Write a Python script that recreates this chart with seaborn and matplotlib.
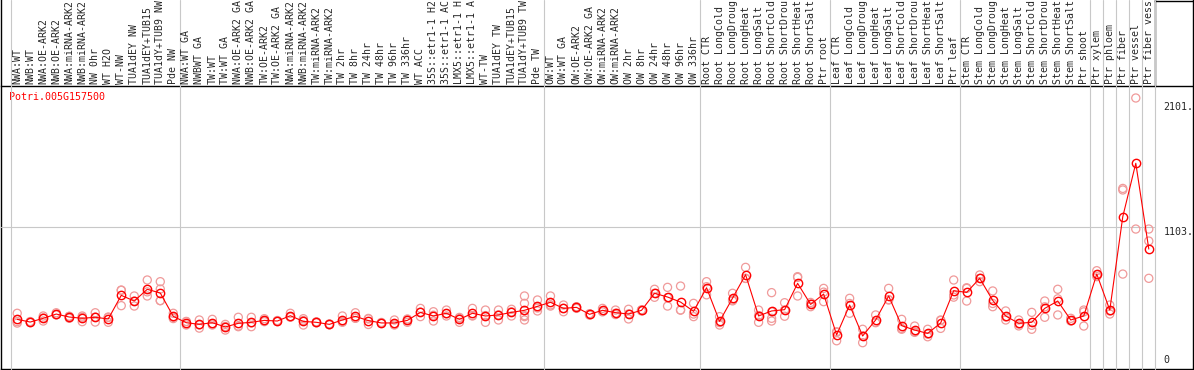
import seaborn as sns
import matplotlib.pyplot as plt
import matplotlib.transforms as mtrans
import pandas as pd

sns.set_style("white")
plt.rcParams['font.family'] = ['DejaVu Sans Mono']

gen = "Potri.005G157500"

muestras = ["NWA:WT", "NWB:WT", "NWA:OE-ARK2", "NWB:OE-ARK2", "NWA:miRNA-ARK2", "NWB:miRNA-ARK2",
            "NW 0hr", "WT H2O", "WT-NW", "TUA1dEY NW", "TUA1dEY+TUB15", "TUA1dY+TUB9 NW", "Pde NW",
            "NWA:WT GA", "NWBWT GA", "TW:WT", "TW:WT GA", "NWA:OE-ARK2 GA", "NWB:OE-ARK2 GA",
            "TW:OE-ARK2", "TW:OE-ARK2 GA", "NWA:miRNA-ARK2", "NWB:miRNA-ARK2", "TW:miRNA-ARK2",
            "TW:miRNA-ARK2", "TW 2hr", "TW 8hr", "TW 24hr", "TW 48hr", "TW 96hr", "TW 336hr", "WT ACC",
            "35S::etr1-1 H2", "35S::etr1-1 AC", "LMX5::etr1-1 H", "LMX5::etr1-1 A", "WT-TW",
            "TUA1dEY TW", "TUA1dEY+TUB15", "TUA1dY+TUB9 TW", "Pde TW",
            "OW:WT", "OW:WT GA", "OW:OE-ARK2", "OW:OE-ARK2 GA", "OW:miRNA-ARK2", "OW:miRNA-ARK2",
            "OW 2hr", "OW 8hr", "OW 24hr", "OW 48hr", "OW 96hr", "OW 336hr",
            "Root CTR", "Root LongCold", "Root LongDroug", "Root LongHeat", "Root LongSalt",
            "Root ShortCold", "Root ShortDrou", "Root ShortHeat", "Root ShortSalt", "Ptr root",
            "Leaf CTR", "Leaf LongCold", "Leaf LongDroug", "Leaf LongHeat", "Leaf LongSalt",
            "Leaf ShortCold", "Leaf ShortDrou", "Leaf ShortHeat", "Leaf ShortSalt", "Ptr leaf",
            "Stem CTR", "Stem LongCold", "Stem LongDroug", "Stem LongHeat", "Stem LongSalt",
            "Stem ShortCold", "Stem ShortDrou", "Stem ShortHeat", "Stem ShortSalt", "Ptr shoot",
            "Ptr xylem", "Ptr phloem", "Ptr fiber", "Ptr vessel", "Ptr fiber vess"]

medias = [385, 364, 393, 426, 403, 393, 401, 388, 571, 527, 618, 589, 408,
          359, 346, 359, 326, 354, 362, 377, 372, 413, 369, 362, 346, 380, 408, 375, 357, 357,
          377, 439, 411, 432, 385, 432, 411, 419, 439, 455, 486,
          517, 470, 478, 424, 455, 437, 426, 455, 587, 558, 519, 447,
          630, 369, 550, 731, 411, 450, 460, 664, 501, 581,
          264, 496, 256, 380, 566, 336, 302, 276, 357, 607,
          594, 703, 532, 411, 354, 362, 470, 527, 380, 411,
          736, 457, 1181, 1595, 930]

replicas = [[432, 367, 356], [364, 360, 368], [411, 372, 396], [436, 419, 423], [409, 393, 407],
            [411, 367, 401], [436, 364, 403], [403, 362, 399], [612, 491, 610], [566, 488, 527],
            [690, 566, 598], [677, 620, 530, 530], [432, 401, 391],
            [367, 341, 369], [380, 341, 317], [385, 341, 351], [346, 302, 330], [401, 328, 333],
            [401, 328, 357], [390, 367, 374], [368, 376, 372], [432, 401, 406], [390, 341, 376],
            [362, 358, 366], [346, 342, 350], [411, 362, 367], [436, 393, 395], [345, 388, 392],
            [357, 353, 361], [380, 341, 350], [388, 362, 381], [470, 406, 441], [444, 372, 417],
            [457, 411, 428], [393, 362, 400], [470, 411, 415], [457, 362, 414], [457, 380, 420],
            [463, 411, 443], [566, 509, 380, 406, 414], [535, 450, 473],
            [566, 488, 497], [496, 444, 470], [470, 482, 482], [418, 428, 426], [470, 452, 443],
            [457, 432, 422], [463, 388, 427], [450, 458, 457], [618, 587, 556], [633, 488, 553],
            [643, 457, 457], [509, 406, 426],
            [677, 638, 575], [406, 341, 360], [587, 535, 528], [788, 703, 702], [457, 362, 414],
            [592, 393, 372, 443], [514, 457, 409], [716, 566, 710], [483, 504, 516], [625, 522, 596],
            [219, 289, 284], [548, 432, 508], [204, 308, 256], [419, 359, 362], [625, 535, 538],
            [385, 308, 315], [333, 289, 284], [308, 250, 270], [380, 315, 376], [690, 574, 557],
            [625, 527, 630], [729, 703, 677], [605, 483, 508], [450, 380, 403], [380, 348, 334],
            [439, 308, 339], [527, 401, 482], [618, 419, 544], [393, 375, 372], [457, 333, 443],
            [762, 716, 730], [496, 426, 449], [1400, 1388, 736], [2101, 1085], [1085, 992, 703]]

# indices where a new group of samples starts
cortes = [0, 13, 41, 53, 63, 73, 83, 84, 85, 86, 87, 88]
marcas_y = [0, 1103, 2101]
etiquetas_y = ["0", "1103.", "2101."]

pos = list(range(len(muestras)))
df_medias = pd.DataFrame({'pos': pos, 'valor': medias})
df_rep = pd.DataFrame([(i, v) for i, r in enumerate(replicas) for v in r], columns=['pos', 'valor'])

W, H = 1194, 370
fig = plt.figure(figsize=(W / 100, H / 100), dpi=100)

# marco general en pixeles
marco = fig.add_axes([0, 0, 1, 1], zorder=-1)
marco.set_xlim(0, W)
marco.set_ylim(H, 0)
marco.axis('off')
for xs, ys in [([1, 1], [0, 369]), ([1, 1193], [86, 86]), ([1, 1193], [369, 369]),
               ([1193, 1193], [0, 369]), ([1155, 1193], [0.5, 0.5]), ([1155, 1155], [0, 86])]:
    marco.plot(xs, ys, color='black', lw=1.0, solid_capstyle='projecting')
marco.text(9, 97, gen, color='red', fontsize=7.2, va='center', ha='left')

x0, x1, y0, y1 = 10.7, 1155.3, 86, 369
ax = fig.add_axes([x0 / W, (H - y1) / H, (x1 - x0) / W, (y1 - y0) / H])
ax.set_facecolor('none')
for s in ax.spines.values():
    s.set_visible(False)
ax.set_xlim(-0.5, len(muestras) - 0.5)
ax.set_ylim(0, 2194)

gris = '#c8c8c8'
arriba = (y1 - 0) / (y1 - y0)
for c in cortes:
    ax.axvline(c - 0.5, ymin=0, ymax=arriba, color=gris, lw=0.8, clip_on=False, zorder=0)
ax.axhline(1103, xmin=-(x0 - 1) / (x1 - x0), xmax=1, color=gris, lw=0.8, clip_on=False, zorder=0)

sns.scatterplot(data=df_rep, x='pos', y='valor', ax=ax, marker='o', s=34,
                facecolor='none', edgecolor='#f09a9a', linewidth=0.9, zorder=2)
sns.lineplot(data=df_medias, x='pos', y='valor', ax=ax, color='red', lw=0.8, marker='o',
             markersize=6, markerfacecolor='none', markeredgecolor='red', markeredgewidth=1.0,
             zorder=3)

ax.set_xticks(pos)
ax.set_xticklabels(muestras, rotation=90, fontsize=7.1)
ax.tick_params(axis='x', top=True, bottom=False, labeltop=True, labelbottom=False,
               length=0, pad=1.8)
ax.set_yticks([])
ax.set_xlabel("")
ax.set_ylabel("")

tr = mtrans.blended_transform_factory(ax.transAxes, ax.transData)
desplaz = [2.6, -0.5, -3.0]
alineado = ['bottom', 'top', 'top']
for v, t, d, a in zip(marcas_y, etiquetas_y, desplaz, alineado):
    ax.annotate(t, xy=(1.0, v), xycoords=tr, xytext=(6, d), textcoords='offset points',
                fontsize=7.2, ha='left', va=a, annotation_clip=False)

fig.savefig("out.png", dpi=100, facecolor='white')
